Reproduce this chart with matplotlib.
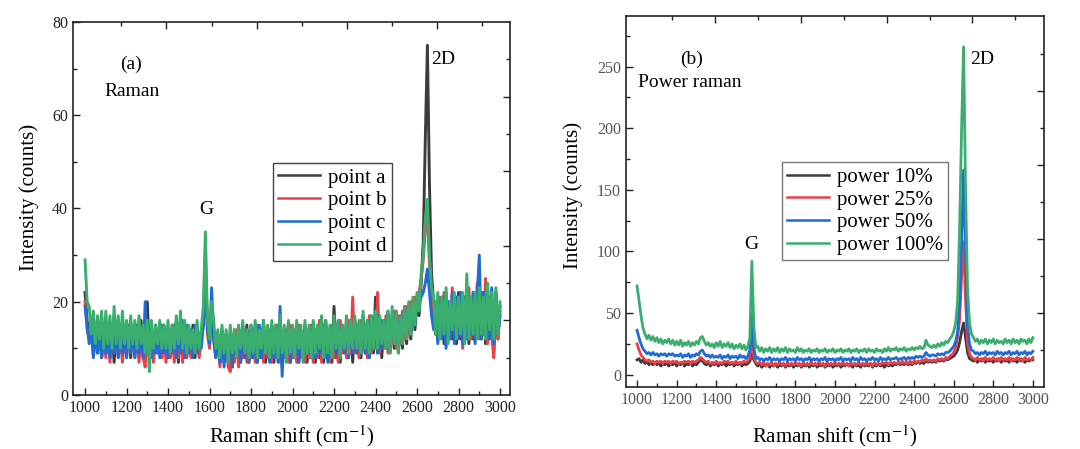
import numpy as np
import matplotlib
matplotlib.use("Agg")
import matplotlib.pyplot as plt
from matplotlib.ticker import MultipleLocator, FixedLocator, NullFormatter

plt.rcParams.update({'font.family': 'Liberation Serif', 'mathtext.fontset': 'stix'})

# Raman shift grid (cm-1), 10 cm-1 step
shift = np.arange(1000, 3001, 10)

# ---- panel (a): four points ----
point_a = [22, 16, 13, 16, 10, 15, 9, 14, 8, 15,
           9, 14, 8, 15, 7, 14, 9, 15, 8, 14,
           9, 15, 8, 14, 9, 15, 8, 16, 9, 14,
           20, 9, 14, 8, 15, 9, 14, 8, 15, 9,
           14, 8, 15, 9, 16, 7, 15, 9, 14, 8,
           14, 9, 15, 8, 13, 9, 12, 16, 30, 14,
           11, 18, 13, 9, 13, 7, 14, 8, 13, 7,
           13, 6, 14, 8, 13, 7, 14, 8, 15, 7,
           14, 8, 15, 7, 14, 8, 16, 7, 13, 8,
           14, 7, 15, 8, 16, 6, 14, 8, 15, 7,
           14, 8, 15, 7, 14, 9, 15, 7, 14, 8,
           15, 7, 14, 8, 15, 7, 16, 8, 14, 7,
           19, 8, 15, 7, 14, 9, 15, 8, 16, 7,
           16, 9, 15, 8, 17, 9, 15, 8, 16, 9,
           21, 9, 16, 8, 15, 10, 17, 9, 16, 10,
           17, 9, 16, 10, 18, 11, 19, 12, 20, 14,
           20, 17, 24, 33, 55, 75, 45, 26, 20, 13,
           20, 12, 21, 11, 22, 13, 20, 12, 21, 11,
           22, 12, 20, 13, 23, 11, 21, 12, 22, 13,
           21, 12, 22, 11, 23, 13, 21, 9, 22, 12,
           19]
point_b = [20, 14, 12, 15, 9, 14, 10, 13, 8, 14,
           8, 13, 7, 14, 9, 13, 8, 14, 7, 13,
           8, 14, 9, 13, 8, 14, 7, 13, 8, 6,
           14, 8, 13, 7, 14, 9, 13, 8, 14, 7,
           13, 8, 14, 7, 15, 8, 14, 7, 13, 8,
           14, 8, 13, 9, 14, 8, 12, 15, 27, 13,
           10, 17, 12, 8, 13, 6, 13, 7, 12, 6,
           5, 13, 7, 14, 6, 13, 8, 14, 7, 13,
           8, 14, 7, 15, 8, 14, 7, 13, 8, 14,
           7, 14, 8, 15, 7, 13, 8, 14, 7, 15,
           8, 14, 7, 15, 8, 13, 7, 14, 8, 15,
           7, 14, 8, 16, 7, 15, 8, 14, 7, 15,
           8, 15, 7, 16, 9, 14, 8, 16, 9, 21,
           9, 15, 8, 16, 10, 15, 8, 17, 9, 16,
           10, 22, 9, 16, 10, 17, 9, 16, 11, 18,
           10, 17, 11, 18, 12, 19, 13, 20, 15, 21,
           18, 22, 25, 29, 36, 38, 28, 21, 15, 20,
           12, 21, 13, 22, 11, 20, 13, 23, 12, 21,
           13, 22, 10, 21, 13, 23, 12, 20, 13, 24,
           12, 22, 13, 25, 11, 21, 13, 8, 22, 12,
           18]
point_c = [19, 15, 11, 14, 8, 13, 9, 14, 8, 13,
           9, 14, 8, 13, 9, 14, 8, 13, 9, 14,
           8, 13, 9, 14, 8, 13, 9, 14, 8, 20,
           9, 14, 8, 13, 9, 14, 8, 15, 9, 14,
           8, 14, 9, 15, 8, 14, 9, 16, 8, 15,
           9, 14, 8, 15, 9, 13, 10, 15, 26, 14,
           11, 23, 12, 8, 13, 7, 12, 6, 13, 7,
           14, 6, 13, 8, 14, 7, 15, 8, 14, 7,
           15, 8, 14, 7, 15, 8, 14, 9, 13, 7,
           15, 8, 14, 7, 19, 4, 14, 8, 15, 7,
           14, 8, 15, 7, 14, 8, 15, 9, 14, 8,
           15, 8, 14, 9, 16, 8, 15, 7, 14, 8,
           15, 9, 16, 8, 15, 9, 16, 8, 15, 9,
           16, 9, 15, 10, 17, 9, 16, 8, 17, 10,
           16, 9, 17, 10, 16, 11, 18, 10, 17, 12,
           18, 10, 17, 12, 19, 13, 18, 14, 20, 16,
           19, 20, 21, 22, 24, 27, 22, 17, 14, 19,
           11, 20, 12, 21, 10, 20, 12, 22, 11, 21,
           12, 22, 11, 21, 12, 20, 13, 22, 11, 21,
           30, 12, 22, 13, 21, 12, 23, 11, 22, 13,
           17]
point_d = [29, 20, 19, 13, 18, 11, 17, 12, 18, 10,
           18, 11, 17, 10, 19, 11, 17, 10, 18, 11,
           16, 10, 17, 11, 16, 10, 17, 11, 15, 9,
           16, 5, 16, 10, 15, 11, 16, 10, 15, 10,
           16, 9, 15, 10, 17, 11, 18, 10, 16, 9,
           15, 10, 14, 9, 16, 10, 14, 19, 35, 16,
           12, 20, 16, 10, 14, 8, 15, 9, 14, 7,
           15, 9, 14, 8, 15, 10, 16, 9, 14, 8,
           15, 9, 16, 8, 14, 10, 16, 9, 15, 8,
           16, 9, 15, 8, 17, 9, 15, 7, 16, 9,
           15, 8, 16, 10, 15, 7, 16, 9, 15, 8,
           16, 9, 15, 10, 17, 8, 16, 9, 15, 8,
           17, 10, 16, 8, 15, 10, 17, 9, 16, 10,
           17, 10, 16, 9, 18, 10, 16, 9, 17, 10,
           18, 10, 17, 11, 16, 10, 18, 9, 19, 11,
           18, 9, 17, 11, 19, 12, 20, 13, 21, 15,
           22, 18, 26, 30, 38, 42, 30, 23, 21, 13,
           22, 12, 21, 13, 23, 11, 20, 14, 22, 12,
           21, 13, 22, 11, 26, 12, 21, 13, 22, 12,
           23, 13, 21, 12, 24, 14, 22, 12, 23, 13,
           20]

# ---- panel (b): laser power ----
power_10 = [12, 13, 10, 12, 9, 11, 8, 10, 8, 10,
            8, 10, 7, 9, 8, 10, 7, 9, 8, 10,
            7, 9, 8, 10, 7, 9, 8, 10, 7, 9,
            8, 10, 12, 11, 9, 8, 10, 7, 9, 8,
            10, 7, 9, 8, 10, 7, 9, 8, 10, 7,
            9, 8, 10, 7, 9, 8, 9, 11, 17, 12,
            9, 7, 9, 6, 8, 7, 9, 6, 8, 7,
            9, 6, 8, 7, 9, 6, 8, 7, 9, 6,
            8, 7, 9, 6, 8, 7, 9, 6, 8, 7,
            9, 6, 8, 7, 9, 6, 8, 7, 9, 6,
            8, 7, 9, 6, 8, 7, 9, 7, 8, 6,
            9, 7, 8, 6, 9, 7, 8, 7, 9, 6,
            8, 7, 9, 7, 8, 6, 9, 7, 8, 7,
            9, 8, 10, 8, 9, 8, 10, 8, 9, 8,
            10, 9, 11, 9, 10, 9, 12, 10, 11, 10,
            11, 10, 12, 11, 12, 11, 13, 12, 13, 14,
            15, 17, 20, 26, 35, 42, 30, 18, 13, 12,
            11, 12, 10, 12, 11, 13, 10, 12, 11, 12,
            10, 12, 11, 13, 10, 12, 11, 12, 10, 13,
            11, 12, 10, 13, 11, 12, 10, 12, 11, 12,
            12]
power_25 = [25, 20, 16, 14, 12, 11, 12, 10, 11, 9,
            11, 10, 11, 9, 11, 10, 11, 9, 11, 10,
            11, 9, 10, 9, 11, 10, 11, 9, 11, 10,
            11, 12, 14, 13, 11, 10, 11, 9, 10, 9,
            11, 9, 10, 9, 11, 10, 11, 9, 10, 9,
            11, 9, 10, 9, 11, 10, 11, 14, 31, 14,
            10, 9, 10, 8, 10, 7, 9, 8, 10, 7,
            9, 8, 10, 8, 9, 7, 10, 8, 9, 8,
            10, 8, 9, 7, 10, 8, 9, 8, 10, 8,
            9, 8, 10, 8, 9, 7, 10, 8, 9, 8,
            10, 8, 9, 8, 10, 8, 9, 7, 10, 8,
            9, 8, 10, 8, 9, 8, 10, 8, 9, 7,
            10, 8, 9, 8, 10, 9, 10, 8, 10, 9,
            10, 9, 10, 9, 11, 9, 10, 9, 11, 9,
            11, 10, 11, 10, 12, 11, 13, 11, 12, 11,
            12, 11, 13, 12, 13, 12, 14, 13, 15, 16,
            18, 22, 30, 45, 80, 108, 60, 26, 17, 14,
            13, 12, 14, 12, 13, 11, 14, 12, 13, 12,
            14, 12, 13, 11, 14, 12, 13, 12, 14, 11,
            13, 12, 14, 12, 13, 11, 14, 12, 13, 12,
            14]
power_50 = [36, 30, 25, 21, 19, 17, 18, 16, 18, 16,
            17, 15, 17, 16, 17, 15, 17, 16, 17, 15,
            16, 15, 17, 14, 16, 15, 17, 14, 16, 15,
            17, 16, 19, 20, 17, 15, 16, 14, 16, 14,
            15, 14, 16, 13, 15, 14, 16, 13, 15, 14,
            15, 13, 16, 14, 15, 13, 15, 20, 50, 22,
            13, 14, 12, 13, 11, 13, 12, 14, 11, 13,
            12, 13, 11, 13, 12, 14, 11, 13, 12, 13,
            11, 14, 12, 13, 11, 13, 12, 14, 11, 13,
            12, 13, 11, 13, 12, 14, 11, 13, 12, 13,
            11, 13, 12, 14, 11, 13, 12, 13, 11, 14,
            12, 13, 11, 14, 12, 13, 11, 13, 12, 14,
            12, 13, 11, 14, 12, 13, 12, 14, 12, 13,
            13, 14, 12, 13, 13, 14, 12, 14, 13, 14,
            13, 15, 14, 15, 14, 15, 18, 16, 15, 16,
            16, 15, 17, 16, 17, 16, 18, 18, 19, 21,
            23, 27, 35, 60, 110, 166, 100, 40, 25, 20,
            19, 17, 18, 16, 18, 17, 19, 16, 18, 17,
            18, 16, 19, 17, 18, 16, 18, 17, 19, 16,
            18, 17, 19, 16, 18, 17, 19, 16, 18, 17,
            19]
power_100 = [72, 60, 48, 38, 33, 29, 32, 28, 31, 27,
             30, 26, 29, 25, 28, 26, 29, 25, 28, 24,
             27, 24, 28, 23, 26, 24, 27, 23, 26, 24,
             27, 25, 30, 31, 27, 24, 26, 23, 25, 22,
             26, 23, 27, 22, 25, 23, 26, 22, 25, 21,
             24, 22, 25, 21, 24, 20, 23, 30, 92, 40,
             22, 23, 19, 22, 18, 21, 19, 22, 18, 21,
             19, 22, 18, 21, 19, 22, 18, 21, 19, 20,
             18, 22, 19, 21, 18, 20, 19, 21, 18, 20,
             19, 21, 18, 20, 19, 21, 18, 20, 19, 21,
             18, 20, 19, 21, 18, 20, 19, 21, 18, 20,
             19, 21, 18, 20, 19, 21, 18, 21, 19, 20,
             18, 21, 19, 20, 18, 21, 19, 22, 19, 21,
             20, 22, 19, 21, 20, 22, 19, 21, 20, 22,
             20, 22, 21, 23, 21, 22, 28, 24, 23, 22,
             24, 22, 25, 23, 26, 24, 27, 26, 29, 31,
             35, 42, 60, 120, 200, 266, 150, 70, 42, 33,
             30, 27, 29, 25, 28, 26, 29, 25, 28, 26,
             29, 25, 28, 26, 27, 25, 29, 26, 28, 25,
             29, 26, 28, 25, 29, 27, 28, 25, 29, 26,
             30]

labels_a = ["point a", "point b", "point c", "point d"]
labels_b = ["power 10%", "power 25%", "power 50%", "power 100%"]
colors = ["#3c3c3c", "#e8414b", "#1f6bd8", "#3aae6c"]

# odd-spaced ticks on the top / right frames
top_ticks = [1175, 1392, 1610, 1827, 2044, 2261, 2478, 2695, 2912]
right_ticks_a = [8, 16, 24, 32, 40, 48, 56, 64, 72]
right_ticks_b = [20, 50, 80, 110, 140, 170, 200, 230, 260]


def style_axes(ax, ymajor, yminor, right_ticks, label_color):
    ax.xaxis.set_major_locator(MultipleLocator(200))
    ax.xaxis.set_minor_locator(MultipleLocator(100))
    ax.yaxis.set_major_locator(MultipleLocator(ymajor))
    ax.yaxis.set_minor_locator(MultipleLocator(yminor))
    ax.tick_params(which="both", direction="in", top=False, right=False,
                   labelsize=11.5, labelcolor=label_color, color="#222")
    ax.tick_params(which="major", length=5, width=1)
    ax.tick_params(which="minor", length=3, width=1)
    for s in ax.spines.values():
        s.set_linewidth(1.2)
        s.set_color("#222")

    top = ax.secondary_xaxis("top")
    top.xaxis.set_major_locator(FixedLocator(top_ticks[1::2]))
    top.xaxis.set_minor_locator(FixedLocator(top_ticks[0::2]))
    top.xaxis.set_major_formatter(NullFormatter())
    top.tick_params(which="both", direction="in", color="#222", width=1)
    top.tick_params(which="major", length=5)
    top.tick_params(which="minor", length=3)
    top.spines["top"].set_visible(False)

    rt = ax.secondary_yaxis("right")
    rt.yaxis.set_major_locator(FixedLocator(right_ticks[1::2]))
    rt.yaxis.set_minor_locator(FixedLocator(right_ticks[0::2]))
    rt.yaxis.set_major_formatter(NullFormatter())
    rt.tick_params(which="both", direction="in", color="#222", width=1)
    rt.tick_params(which="major", length=5)
    rt.tick_params(which="minor", length=3)
    rt.spines["right"].set_visible(False)


fig = plt.figure(figsize=(10.8, 4.49), dpi=100)
ax1 = fig.add_axes([0.0676, 0.1203, 0.4046, 0.8307])
ax2 = fig.add_axes([0.5796, 0.1381, 0.3870, 0.8263])

for ys, lab, c in zip([point_a, point_b, point_c, point_d], labels_a, colors):
    ax1.plot(shift, ys, color=c, lw=2.1, label=lab)
ax1.set_xlim(942, 3048)
ax1.set_ylim(0, 80)
style_axes(ax1, 20, 10, right_ticks_a, "#222")
ax1.set_xlabel(r"Raman shift (cm$^{-1}$)", fontsize=15)
ax1.set_ylabel("Intensity (counts)", fontsize=15)
ax1.xaxis.set_label_coords(0.5, -0.075)
ax1.yaxis.set_label_coords(-0.078, 0.53)
ax1.text(1222, 71, "(a)", fontsize=14, ha="center", va="center")
ax1.text(1228, 65, "Raman", fontsize=14, ha="center", va="center")
ax1.text(1583, 39.7, "G", fontsize=14, ha="center", va="center")
ax1.text(2727, 72, "2D", fontsize=14, ha="center", va="center")
leg1 = ax1.legend(loc="upper left", bbox_to_anchor=(0.458, 0.622), fontsize=15,
                  fancybox=False, framealpha=1, edgecolor="#444", borderpad=0.25,
                  labelspacing=0.15, handlelength=2.0, handletextpad=0.4, borderaxespad=0)
for h in leg1.get_lines():
    h.set_linewidth(1.8)

for ys, lab, c in zip([power_10, power_25, power_50, power_100], labels_b, colors):
    ax2.plot(shift, ys, color=c, lw=2.0, label=lab)
ax2.set_xlim(944, 3056)
ax2.set_ylim(-10, 291)
style_axes(ax2, 50, 25, right_ticks_b, "#555")
ax2.set_xlabel(r"Raman shift (cm$^{-1}$)", fontsize=15)
ax2.set_ylabel("Intensity (counts)", fontsize=15)
ax2.xaxis.set_label_coords(0.5, -0.097)
ax2.yaxis.set_label_coords(-0.104, 0.517)
ax2.text(1273, 256, "(b)", fontsize=14, ha="center", va="center")
ax2.text(1005, 237, "Power raman", fontsize=14, ha="left", va="center")
ax2.text(1576, 106, "G", fontsize=14, ha="center", va="center")
ax2.text(2742, 256, "2D", fontsize=14, ha="center", va="center")
leg2 = ax2.legend(loc="upper left", bbox_to_anchor=(0.373, 0.606), fontsize=15,
                  fancybox=False, framealpha=1, edgecolor="#777", borderpad=0.25,
                  labelspacing=0.15, handlelength=2.0, handletextpad=0.4, borderaxespad=0)
for h in leg2.get_lines():
    h.set_linewidth(1.8)

fig.savefig("out.png", dpi=100)
